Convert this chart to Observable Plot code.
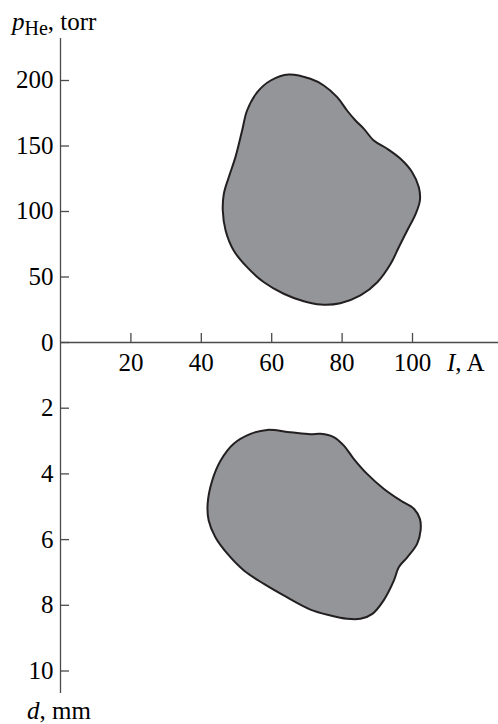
<!DOCTYPE html>
<html>
<head>
<meta charset="utf-8">
<script src="https://cdn.jsdelivr.net/npm/d3@7"></script>
<script src="https://cdn.jsdelivr.net/npm/@observablehq/plot@0.6"></script>
<style>
  html, body { margin: 0; padding: 0; background: white; }
  #chart { position: relative; width: 498px; height: 724px; font-family: "Liberation Serif", "DejaVu Serif", serif; color: black; }
  #chart svg { position: absolute; left: 0; }
  .lbl { position: absolute; font-size: 25px; line-height: 25px; white-space: nowrap; }
  .lbl sub { font-size: 20px; vertical-align: baseline; position: relative; top: 5px; }
</style>
</head>
<body>
<div id="chart">
  <div class="lbl" style="left:12px; top:9px;"><i>p</i><sub>He</sub>, torr</div>
  <div class="lbl" style="left:447px; top:350px;"><i>I</i>, A</div>
  <div class="lbl" style="left:27px; top:698px;"><i>d</i>, mm</div>
</div>
<script>
// ---- data ----
const xTicks = [20, 40, 60, 80, 100];
const pTicks = [0, 50, 100, 150, 200];
const dTicks = [2, 4, 6, 8, 10];

// top region: current I (A) vs helium pressure p (torr)
const topI = [64.8, 59.7, 55.9, 53.0, 51.6, 49.7, 47.8, 46.4, 46.1, 46.9, 49.2, 53.0, 57.8, 63.4, 69.1, 73.9,
              79.5, 85.2, 90.0, 93.8, 96.1, 98.5, 100.9, 102.1, 101.8, 99.9, 96.6, 92.8, 89.0, 86.2, 83.8, 81.4, 78.6, 74.8, 71.0];
const topP = [204.6, 200.0, 191.1, 177.1, 161.8, 141.5, 126.2, 113.5, 100.8, 85.5, 70.2, 57.5, 46.0, 37.2, 31.5, 29.0,
              30.0, 35.9, 46.0, 60.1, 72.7, 85.5, 98.2, 108.4, 118.5, 130.0, 140.2, 147.9, 154.2, 163.1, 169.5, 177.1, 187.3, 196.2, 201.3];

// bottom region: current I (A) vs distance d (mm)
const botI = [54.0, 58.7, 65.3, 71.0, 73.9, 77.6, 80.5, 83.3, 87.1, 91.8, 96.6, 100.4, 102.1, 102.3, 101.3, 98.5, 96.1,
              94.7, 91.8, 88.6, 85.2, 81.4, 76.7, 71.0, 63.4, 57.8, 52.1, 47.4, 44.0, 42.1, 41.8, 43.1, 45.5, 49.2];
const botD = [2.78, 2.66, 2.73, 2.79, 2.78, 2.88, 3.14, 3.54, 4.00, 4.45, 4.81, 5.06, 5.37, 5.72, 6.13, 6.54, 6.84,
              7.25, 7.85, 8.26, 8.41, 8.41, 8.31, 8.13, 7.70, 7.35, 6.94, 6.43, 5.93, 5.42, 4.91, 4.20, 3.59, 3.08];

const topBlob = topI.map((I, i) => ({I, p: topP[i]}));
const botBlob = botI.map((I, i) => ({I, d: botD[i]}));

const axisColor = "#4a4a4a";
const fillColor = "#939598";
const edgeColor = "#231f20";
const svgStyle = {fontFamily: "'Liberation Serif', 'DejaVu Serif', serif", fontSize: "25px", background: "transparent", overflow: "visible", color: "black"};

const xDomain = [0, 124.43];

const topPlot = Plot.plot({
  width: 498, height: 380,
  marginLeft: 60, marginRight: 0, marginTop: 38, marginBottom: 38,
  style: svgStyle,
  x: {domain: xDomain},
  y: {domain: [0, 232.06]},
  marks: [
    Plot.line(topBlob, {x: "I", y: "p", curve: "catmull-rom-closed", fill: fillColor, stroke: edgeColor, strokeWidth: 2}),
    Plot.ruleY([0], {stroke: axisColor, strokeWidth: 1.3}),
    Plot.ruleX([0], {stroke: axisColor, strokeWidth: 1.3}),
    Plot.axisY({ticks: pTicks, anchor: "left", tickSize: -9, tickPadding: 16, stroke: axisColor, strokeWidth: 1.3, label: null}),
    Plot.axisX({ticks: xTicks, anchor: "bottom", tickSize: -9, tickPadding: 20, stroke: axisColor, strokeWidth: 1.3, label: null})
  ]
});
topPlot.style.top = "0px";

const bottomPlot = Plot.plot({
  width: 498, height: 382,
  marginLeft: 60, marginRight: 0, marginTop: 0, marginBottom: 31,
  style: svgStyle,
  x: {domain: xDomain, axis: null},
  y: {domain: [0, 10.685], reverse: true},
  marks: [
    Plot.line(botBlob, {x: "I", y: "d", curve: "catmull-rom-closed", fill: fillColor, stroke: edgeColor, strokeWidth: 2}),
    Plot.ruleX([0], {stroke: axisColor, strokeWidth: 1.3}),
    Plot.axisY({ticks: dTicks, anchor: "left", tickSize: -9, tickPadding: 16, stroke: axisColor, strokeWidth: 1.3, label: null})
  ]
});
bottomPlot.style.top = "342px";

const chart = document.getElementById("chart");
chart.appendChild(topPlot);
chart.appendChild(bottomPlot);
</script>
</body>
</html>
